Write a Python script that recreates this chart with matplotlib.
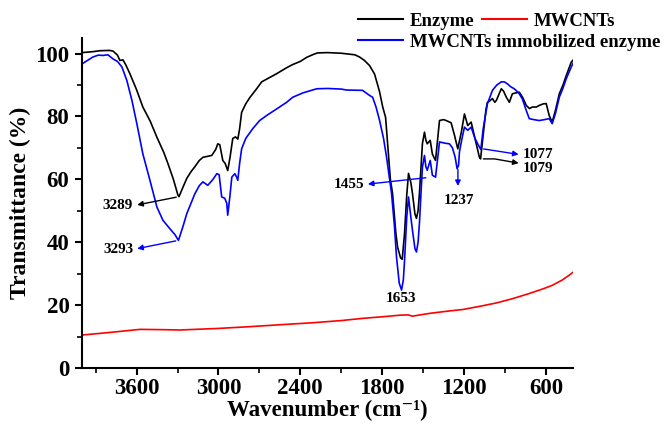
import matplotlib
matplotlib.use('Agg')
import matplotlib.pyplot as plt
from matplotlib.ticker import MultipleLocator

plt.rcParams['font.family'] = ['Liberation Serif', 'DejaVu Serif']
plt.rcParams['font.weight'] = 'bold'

# Enzyme (black)
enzyme_wn = [4000, 3920, 3868, 3800, 3773, 3740, 3722, 3700, 3680, 3649, 3600, 3554, 3500, 3451,
             3400, 3370, 3330, 3297, 3289, 3260, 3232, 3200, 3173, 3140, 3114, 3080, 3049, 3020,
             3005, 2990, 2968, 2950, 2932, 2915, 2895, 2875, 2858, 2845, 2830, 2800, 2770, 2720,
             2683, 2620, 2573, 2500, 2456, 2400, 2353, 2300, 2273, 2200, 2100, 2061, 2000, 1966,
             1930, 1893, 1856, 1820, 1796, 1775, 1760, 1740, 1724, 1700, 1687, 1665, 1653, 1636,
             1620, 1607, 1590, 1578, 1560, 1549, 1537, 1527, 1515, 1505, 1490, 1480, 1470, 1448,
             1432, 1409, 1395, 1380, 1350, 1331, 1295, 1270, 1246, 1220, 1197, 1185, 1173, 1148,
             1120, 1088, 1079, 1060, 1040, 1029, 1010, 992, 975, 963, 945, 927, 910, 890, 868,
             846, 820, 795, 770, 744, 720, 700, 670, 649, 620, 598, 576, 554, 530, 502, 475, 451,
             415, 400]
enzyme_t = [100.3, 100.6, 100.9, 101.0, 100.8, 99.5, 97.8, 98.0, 96.5, 93.6, 88.5, 83, 78.5, 73.4,
            68.5, 65, 60, 55, 54.5, 57.5, 60.3, 62.5, 64, 66, 67, 67.3, 67.6, 69.5,
            71.3, 71.0, 66, 65, 62.8, 67, 73, 73.5, 72.8, 76, 81.3, 84, 86, 88.8,
            91, 92.5, 93.6, 95.5, 96.5, 97.5, 98.8, 99.8, 100.2, 100.3, 100.1, 99.9, 99.6, 98.9,
            97.8, 96.2, 93.5, 88, 83, 79.7, 71.4, 60, 55.5, 43, 38.4, 35, 34.6, 42.9,
            55, 61.9, 59, 55.5, 49, 47.6, 50, 55.5, 64, 71.4, 75, 72.5, 71.3, 72.4,
            68, 66, 72, 78.7, 79, 78.7, 78, 74, 69.7, 75, 80.8, 79, 77.1, 78.2,
            73, 67.1, 66.5, 74, 82, 84.5, 85, 85.7, 84.5, 85.1, 87, 88.8, 88, 86.1, 84.5,
            87.2, 87.5, 87.7, 86, 83.5, 82.5, 83, 83, 83.5, 84, 84.1, 80.3, 78.2, 82, 87.2, 90, 93,
            97.2, 98]

# MWCNTs immobilized enzyme (blue)
immob_wn = [4000, 3960, 3920, 3880, 3846, 3810, 3773, 3740, 3707, 3671, 3634, 3598, 3554, 3502,
            3451, 3407, 3356, 3320, 3293, 3260, 3232, 3200, 3173, 3140, 3114, 3078, 3040, 3012,
            2995, 2976, 2954, 2939, 2932, 2915, 2902, 2880, 2870, 2858, 2845, 2830, 2800, 2749,
            2698, 2640, 2573, 2500, 2456, 2380, 2280, 2200, 2100, 2061, 1944, 1893, 1870, 1845,
            1819, 1790, 1768, 1731, 1710, 1695, 1675, 1658, 1645, 1636, 1620, 1607, 1590, 1578,
            1560, 1549, 1537, 1527, 1515, 1505, 1490, 1480, 1470, 1448, 1432, 1409, 1395, 1380,
            1340, 1307, 1285, 1265, 1251, 1240, 1234, 1215, 1197, 1173, 1148, 1120, 1088, 1077,
            1060, 1029, 992, 960, 927, 905, 883, 860, 832, 800, 773, 745, 722, 690, 649, 610, 576,
            554, 530, 502, 475, 451, 415, 400]
immob_t = [96.7, 97.8, 98.9, 99.5, 99.4, 99.6, 98.3, 97.5, 95.7, 91.4, 85.1, 77.7, 68.1, 59.7,
           51.2, 47, 44.3, 42.5, 40.6, 45, 49.1, 52.5, 55.4, 58, 59.2, 58.1, 60, 61.8,
           61.5, 54.4, 54, 52.4, 48.6, 55, 60.7, 61.8, 61, 59.7, 65, 69.7, 73, 76.1,
           78.7, 80.5, 82.4, 84.5, 86.1, 87.5, 88.8, 88.9, 88.7, 88.4, 88.3, 86.7, 86.1, 83,
           78.7, 73, 67.1, 55.4, 45, 35.3, 27, 24.8, 28, 34.3, 48, 54.4, 48, 43.8,
           38, 36.9, 40, 46, 56, 63.9, 67.6, 64, 62.9, 66, 61.3, 60.7, 66, 71.9,
           71.5, 71.3, 70, 67, 63.4, 64.5, 68.7, 73, 76.6, 75.6, 76.6, 73, 70.3, 69.5,
           76, 84, 88.3, 90, 91, 91, 90.4, 89.5, 88.8, 87.5, 85.6, 82, 79.3, 79, 78.7, 79, 79.3,
           77.7, 81, 86.1, 89, 92, 95.7, 97]

# MWCNTs (red)
mwcnt_wn = [4000, 3800, 3575, 3400, 3283, 3000, 2793, 2500, 2310, 2100, 1943, 1800, 1673, 1610,
            1578, 1450, 1300, 1211, 1100, 963, 850, 722, 620, 554, 480, 430, 400]
mwcnt_t = [10.5, 11.3, 12.3, 12.2, 12.1, 12.6, 13.1, 13.9, 14.4, 15.1, 15.8, 16.3, 16.8, 16.9,
           16.5, 17.4, 18.2, 18.6, 19.5, 20.7, 22, 23.7, 25.2, 26.3, 28, 29.5, 30.5]

fig = plt.figure(figsize=(6.72, 4.25), dpi=100)
ax = fig.add_axes([0.122, 0.134, 0.731, 0.777])

l1, = ax.plot(enzyme_wn, enzyme_t, color='black', lw=1.2, label='Enzyme')
l2, = ax.plot(mwcnt_wn, mwcnt_t, color='red', lw=1.2, label='MWCNTs')
l3, = ax.plot(immob_wn, immob_t, color='blue', lw=1.2, label='MWCNTs immobilized enzyme')

ax.set_xlim(4000, 400)
ax.set_ylim(0, 105)
ax.set_xticks([3600, 3000, 2400, 1800, 1200, 600])
ax.xaxis.set_minor_locator(MultipleLocator(300))
ax.yaxis.set_major_locator(MultipleLocator(20))
ax.yaxis.set_minor_locator(MultipleLocator(10))
for s in ['top', 'right']:
    ax.spines[s].set_visible(False)
for s in ['left', 'bottom']:
    ax.spines[s].set_linewidth(1.5)
ax.tick_params(which='major', direction='out', length=5, width=1.5, labelsize=16.5)
ax.tick_params(axis='x', which='major', pad=2.5)
ax.tick_params(axis='y', which='major', pad=4)
ax.tick_params(which='minor', direction='out', length=3.5, width=1.2)
for lab in ax.get_xticklabels() + ax.get_yticklabels():
    lab.set_fontweight('bold')

ax.set_xlabel('Wavenumber (cm\u207b\u00b9)', fontsize=16.5, fontweight='bold', labelpad=0)
ax.set_ylabel('Transmittance (%)', fontsize=17, fontweight='bold', labelpad=3)

# peak annotations
fs = 11
arw = dict(arrowstyle='-|>', lw=1, mutation_scale=8)
ax.annotate('', xy=(3615, 51.7), xytext=(3289, 54.5), arrowprops=dict(arw, color='black'))
ax.text(3625, 51.7, '3289', ha='right', va='center', fontsize=fs)
ax.annotate('', xy=(3615, 37.8), xytext=(3293, 40.6), arrowprops=dict(arw, color='blue'))
ax.text(3625, 37.8, '3293', ha='right', va='center', fontsize=fs)
ax.annotate('', xy=(1925, 58.4), xytext=(1460, 60.6), arrowprops=dict(arw, color='blue'))
ax.text(1930, 58.4, '1455', ha='right', va='center', fontsize=fs)
ax.annotate('', xy=(1245, 57), xytext=(1245, 64), arrowprops=dict(arw, color='blue'))
ax.text(1240, 53.3, '1237', ha='center', va='center', fontsize=fs)
ax.annotate('', xy=(780, 67.8), xytext=(1077, 69.8), arrowprops=dict(arw, color='blue'))
ax.text(770, 68, '1077', ha='left', va='center', fontsize=fs)
ax.annotate('', xy=(780, 65), xytext=(1079, 66.5),
            arrowprops=dict(arw, color='black', connectionstyle='angle,angleA=0,angleB=-10,rad=0'))
ax.text(770, 63.5, '1079', ha='left', va='center', fontsize=fs)
ax.text(1660, 22, '1653', ha='center', va='center', fontsize=fs)

leg_kw = dict(frameon=False, fontsize=13.5, handlelength=2.4, handletextpad=0.35,
              borderpad=0, borderaxespad=0, columnspacing=0.4, loc='center left')
fig.legend([l1, l2], ['Enzyme', 'MWCNTs'], ncol=2,
           bbox_to_anchor=(358 / 672, 1 - 21 / 425), **leg_kw)
fig.legend([l3], ['MWCNTs immobilized enzyme'],
           bbox_to_anchor=(358 / 672, 1 - 42 / 425), **leg_kw)
for leg in fig.legends:
    for t in leg.get_texts():
        t.set_fontweight('bold')
    for h in leg.get_lines():
        h.set_linewidth(1.5)

fig.savefig('out.png', dpi=100)
